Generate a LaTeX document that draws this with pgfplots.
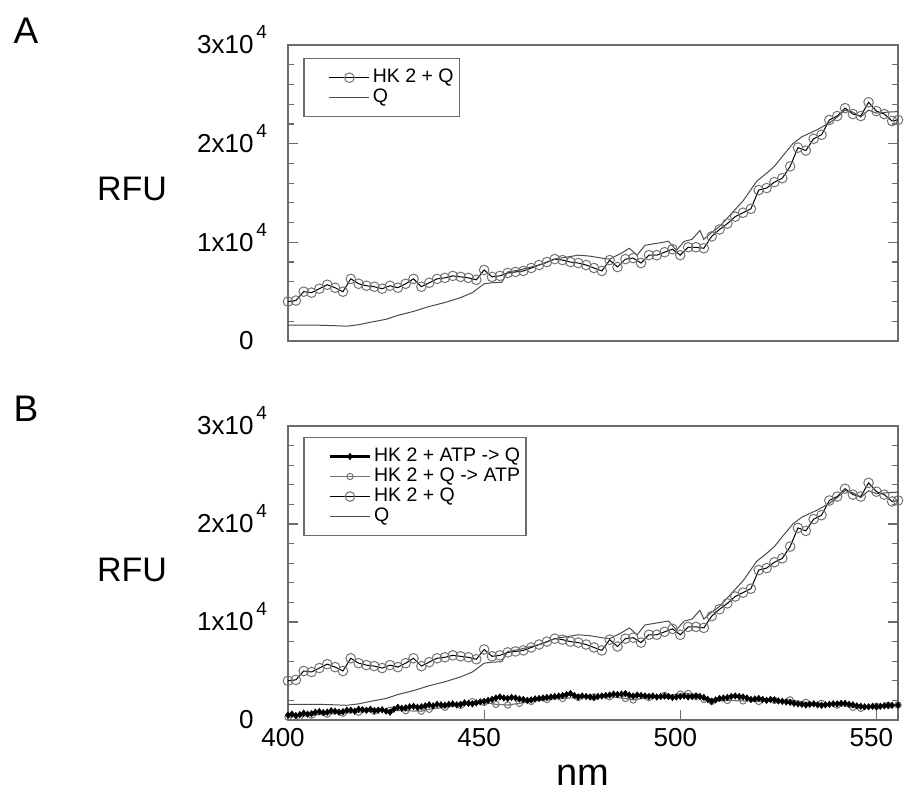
\documentclass[border=0pt]{standalone}
\usepackage{pgfplots}
\pgfplotsset{compat=1.18}
\usepackage{pgfplotstable}
\usepackage{fontspec}
\setmainfont{Liberation Sans}
\definecolor{axgray}{gray}{0.42}
\definecolor{mkgray}{gray}{0.45}
\definecolor{qgray}{gray}{0.3}
\newcommand\tenf{x10\rlap{\smash{\hspace{3pt}\raisebox{15pt}{\fontsize{19pt}{19pt}\selectfont 4}}}}

\pgfplotstableread{
x y
400 4000
402 4100
404 5000
406 4900
408 5300
410 5700
412 5400
414 5000
416 6300
418 5800
420 5600
422 5500
424 5300
426 5600
428 5400
430 5800
432 6300
434 5500
436 5900
438 6300
440 6400
442 6600
444 6500
446 6400
448 6200
450 7200
452 6500
454 6600
456 6900
458 7000
460 7100
462 7400
464 7700
466 8000
468 8300
470 8200
472 8000
474 7900
476 7700
478 7400
480 7100
482 8200
484 7500
486 8300
488 8400
490 7900
492 8700
494 8700
496 9000
498 9300
500 8700
502 9500
504 9500
506 9400
508 10600
510 11300
512 11900
514 12600
516 13000
518 13400
520 15300
522 15500
524 16100
526 16500
528 17700
530 19600
532 19300
534 20500
536 20900
538 22400
540 22800
542 23600
544 23000
546 22800
548 24200
550 23300
552 23000
554 22300
555.5 22400
}\hkq

\pgfplotstableread{
x y
400 1600
404 1600
408 1600
412 1550
415 1500
418 1650
421 1900
425 2200
428 2600
432 3000
436 3500
440 3900
444 4400
447 4900
450 5800
452 5900
454.5 5950
456 7000
459 7200
462 7500
465 7800
468 8300
471 8500
474 8700
477 8600
480 8400
482 8300
485 8900
487 9400
489 8700
491 9700
494 9900
497 10100
499 9200
501 10100
503 10300
505 11200
506 10300
508 11000
510 11600
513 12900
516 14200
519.5 16200
522 17000
524 17700
526 18700
528.7 20000
531 20700
534.8 21400
538 22100
540 22700
542 23400
544 23200
546 22700
548 23400
550 23100
553 23200
555.5 23250
}\qonly

\pgfplotstableread{
x y
400 500
401 600
402 450
403 550
404 700
405 600
406 650
407 800
408 850
409 750
410 800
411 950
412 900
413 800
414 850
415 1000
416 1000
417 900
418 1100
419 1050
420 1000
421 1100
422 950
423 1000
424 1050
425 900
426 800
427 1100
428 1300
429 1200
430 1250
431 1350
432 1400
433 1300
434 1350
435 1450
436 1550
437 1450
438 1600
439 1550
440 1500
441 1600
442 1650
443 1550
444 1600
445 1750
446 1700
447 1650
448 1750
449 1850
450 1900
451 2000
452 2100
453 2250
454 2350
455 2250
456 2200
457 2300
458 2250
459 2150
460 2100
461 2000
462 2050
463 2150
464 2200
465 2250
466 2300
467 2350
468 2400
469 2450
470 2500
471 2600
472 2700
473 2500
474 2350
475 2450
476 2400
477 2350
478 2300
479 2400
480 2450
481 2500
482 2550
483 2650
484 2600
485 2650
486 2700
487 2550
488 2450
489 2550
490 2500
491 2450
492 2400
493 2450
494 2350
495 2400
496 2450
497 2400
498 2300
499 2350
500 2400
501 2450
502 2350
503 2400
504 2450
505 2400
506 2300
507 2100
508 1900
509 2050
510 2200
511 2250
512 2300
513 2400
514 2450
515 2400
516 2350
517 2250
518 2100
519 2150
520 2200
521 2100
522 2000
523 2100
524 2050
525 1950
526 1900
527 1850
528 1800
529 1700
530 1650
531 1600
532 1530
533 1600
534 1650
535 1550
536 1500
537 1550
538 1600
539 1650
540 1650
541 1700
542 1700
543 1600
544 1550
545 1450
546 1400
547 1350
548 1350
549 1400
550 1360
551 1400
552 1450
553 1500
554 1500
555.5 1530
}\atpq

\pgfplotstableread{
x y
400 300
403 350
406 500
410 600
414 700
418 800
422 900
426 1000
430 950
434 900
436 1100
440 1300
444 1500
447 1870
450 1800
453 1600
456 1530
459 1700
462 1900
466 2100
470 2200
474 2300
478 2350
482 2380
486 2200
488 2050
492 2300
496 2500
500 2650
502 2700
504 2400
506 2100
508 1900
512 2000
516 1950
520 1900
524 2000
528 2050
532 1800
536 1700
540 1530
544 1300
546 1200
550 1400
553 1500
555.5 1530
}\qatp

\pgfplotsset{
  panel/.style={
    scale only axis, width=610pt,
    xmin=400, xmax=555.5, ymin=0, ymax=30000,
    axis line style={axgray, line width=1.6pt},
    ytick={0,10000,20000,30000},
    yticklabels={0,1\tenf,2\tenf,3\tenf},
    minor y tick num=4,
    scaled y ticks=false, scaled x ticks=false,
    /pgf/number format/assume math mode=true,
    tick style={axgray, line width=1.2pt},
    major tick length=10pt, minor tick length=6pt,
    tick align=inside,
    ytick pos=both, yticklabel pos=left,
    clip=false,
    yticklabel style={font=\fontsize{26pt}{28pt}\selectfont, xshift=-31pt},
    xticklabel style={font=\fontsize{26pt}{28pt}\selectfont, yshift=-5pt, xshift=-5pt},
    legend image code/.code={\path (0pt,0pt) (60pt,0pt); \draw[mark repeat=2,mark phase=2,##1] plot coordinates {(20pt,0pt)(40pt,0pt)(60pt,0pt)};},
    legend cell align=left,
    legend style={anchor=north west, draw=axgray, line width=1.3pt,
      font=\fontsize{19.5pt}{21pt}\selectfont, inner xsep=5pt, inner ysep=9pt,
      nodes={inner sep=1pt, text height=14pt, text depth=4pt},
      /tikz/every odd column/.append style={column sep=2pt},
      row sep=0pt},
  },
  hkqstyle/.style={black, line width=1pt, mark=o, mark size=4.8pt,
      mark options={draw=mkgray, line width=1pt, fill=none}},
  qstyle/.style={qgray, line width=1pt, no markers},
  atpqstyle/.style={black, line width=2.2pt, mark=diamond*, mark size=3.2pt,
      mark options={black, line width=0.6pt}},
  qatpstyle/.style={mkgray, line width=1.2pt, mark=o, mark size=3.2pt,
      mark options={draw=mkgray, line width=1pt, fill=none}},
}

\begin{document}
\begin{tikzpicture}
\path[use as bounding box] (0pt,0pt) rectangle (904pt,-800pt);

\begin{axis}[panel, height=296pt, at={(288pt,-341pt)}, anchor=south west,
    xtick=\empty,
    legend style={at={(0.025,0.956)}}]
\addplot[hkqstyle] table {\hkq};
\addlegendentry{HK 2 + Q}
\addplot[qstyle] table {\qonly};
\addlegendentry{Q}
\end{axis}

\begin{axis}[panel, height=294pt, at={(288pt,-720pt)}, anchor=south west,
    xtick={400,450,500,550}, xtick pos=lower,
    legend style={at={(0.025,0.963)}}]
\addplot[qatpstyle] table {\qatp};
\addplot[atpqstyle] table {\atpq};
\addplot[hkqstyle] table {\hkq};
\addplot[qstyle] table {\qonly};
\legend{}
\end{axis}

\begin{axis}[panel, height=294pt, at={(288pt,-720pt)}, anchor=south west,
    hide axis, legend style={at={(0.025,0.963)}}]
\addlegendimage{atpqstyle}
\addlegendentry{HK 2 + ATP -> Q}
\addlegendimage{qatpstyle}
\addlegendentry{HK 2 + Q -> ATP}
\addlegendimage{hkqstyle}
\addlegendentry{HK 2 + Q}
\addlegendimage{qstyle}
\addlegendentry{Q}
\end{axis}

\node[font=\fontsize{37pt}{40pt}\selectfont] at (26pt,-31pt) {A};
\node[font=\fontsize{37pt}{40pt}\selectfont] at (26pt,-409pt) {B};
\node[font=\fontsize{34pt}{36pt}\selectfont] at (132pt,-189pt) {RFU};
\node[font=\fontsize{34pt}{36pt}\selectfont] at (132pt,-570pt) {RFU};
\node[font=\fontsize{38pt}{40pt}\selectfont] at (583pt,-775pt) {nm};
\end{tikzpicture}
\end{document}
